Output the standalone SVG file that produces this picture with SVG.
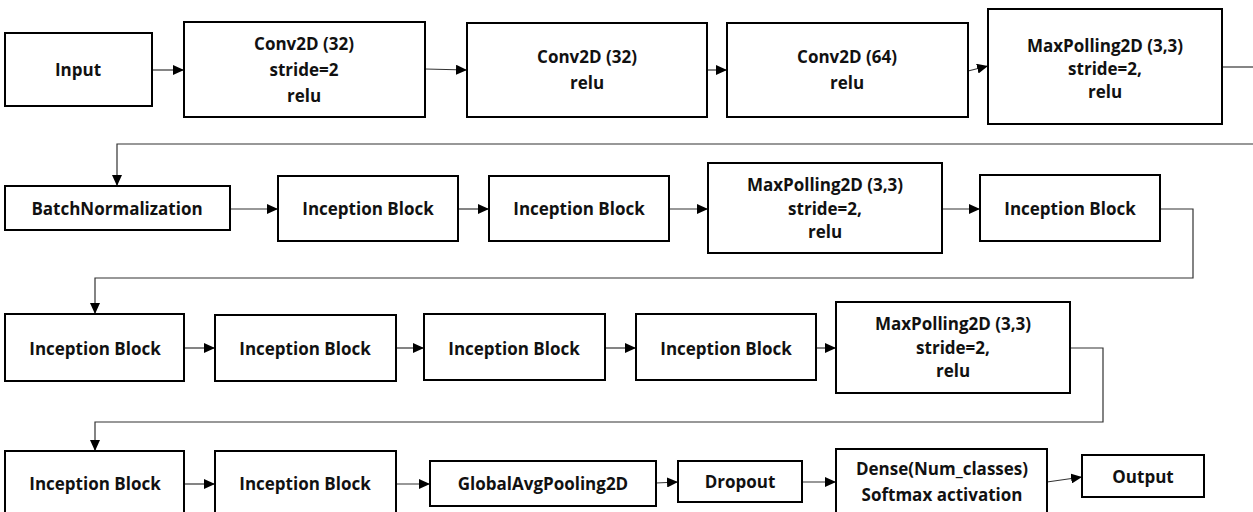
<svg xmlns="http://www.w3.org/2000/svg" width="1253" height="512" viewBox="0 0 1253 512">
<defs>
<style>
.box{fill:#fff;stroke:#000;stroke-width:2}
.t{font-family:"Open Sans","Liberation Sans",sans-serif;font-weight:bold;font-size:17px;fill:#111;text-anchor:middle}
.c{fill:none;stroke:#333;stroke-width:1.2}
</style>
<marker id="ah" markerUnits="userSpaceOnUse" markerWidth="12" markerHeight="10" refX="11" refY="5" orient="auto">
<path d="M0,0 L11,5 L0,10 z" fill="#000"/>
</marker>
</defs>
<rect width="1253" height="512" fill="#fff"/>
<g id="connectors">
<line class="c" x1="152" y1="70" x2="184" y2="70" marker-end="url(#ah)"/>
<line class="c" x1="425" y1="69" x2="467" y2="70" marker-end="url(#ah)"/>
<line class="c" x1="707" y1="70" x2="727" y2="70" marker-end="url(#ah)"/>
<line class="c" x1="968" y1="71" x2="988" y2="66" marker-end="url(#ah)"/>
<line class="c" x1="1222" y1="67" x2="1253" y2="67"/>
<polyline class="c" points="1253,144 117,144 117,186" marker-end="url(#ah)"/>
<line class="c" x1="230" y1="209" x2="278" y2="209" marker-end="url(#ah)"/>
<line class="c" x1="458" y1="209" x2="489" y2="209" marker-end="url(#ah)"/>
<line class="c" x1="669" y1="209" x2="708" y2="209" marker-end="url(#ah)"/>
<line class="c" x1="942" y1="209" x2="980" y2="209" marker-end="url(#ah)"/>
<polyline class="c" points="1160,209 1193,209 1193,278 95,278 95,314" marker-end="url(#ah)"/>
<line class="c" x1="184" y1="348" x2="215" y2="348" marker-end="url(#ah)"/>
<line class="c" x1="396" y1="348" x2="424" y2="348" marker-end="url(#ah)"/>
<line class="c" x1="605" y1="348" x2="636" y2="348" marker-end="url(#ah)"/>
<line class="c" x1="816" y1="348" x2="836" y2="348" marker-end="url(#ah)"/>
<polyline class="c" points="1070,348 1103,348 1103,422 95,422 95,451" marker-end="url(#ah)"/>
<line class="c" x1="184" y1="484" x2="215" y2="484" marker-end="url(#ah)"/>
<line class="c" x1="396" y1="484" x2="430" y2="484" marker-end="url(#ah)"/>
<line class="c" x1="656" y1="483" x2="678" y2="482" marker-end="url(#ah)"/>
<line class="c" x1="802" y1="482" x2="836" y2="482" marker-end="url(#ah)"/>
<line class="c" x1="1047" y1="482" x2="1082" y2="477" marker-end="url(#ah)"/>
</g>
<g id="input"><rect class="box" x="5" y="33" width="147" height="73"/><text class="t" x="78" y="76">Input</text></g>
<g id="conv1"><rect class="box" x="184" y="22" width="241" height="95"/><text class="t" x="304" y="50">Conv2D (32)</text><text class="t" x="304" y="76">stride=2</text><text class="t" x="304" y="102">relu</text></g>
<g id="conv2"><rect class="box" x="467" y="23" width="240" height="94"/><text class="t" x="587" y="63">Conv2D (32)</text><text class="t" x="587" y="89">relu</text></g>
<g id="conv3"><rect class="box" x="727" y="23" width="241" height="94"/><text class="t" x="847" y="63">Conv2D (64)</text><text class="t" x="847" y="89">relu</text></g>
<g id="maxpool1"><rect class="box" x="988" y="9" width="234" height="115"/><text class="t" x="1105" y="52">MaxPolling2D (3,3)</text><text class="t" x="1105" y="75">stride=2,</text><text class="t" x="1105" y="98">relu</text></g>
<g id="batchnorm"><rect class="box" x="5" y="186" width="225" height="44"/><text class="t" x="117" y="215">BatchNormalization</text></g>
<g id="inc1"><rect class="box" x="278" y="176" width="180" height="65"/><text class="t" x="368" y="215">Inception Block</text></g>
<g id="inc2"><rect class="box" x="489" y="176" width="180" height="65"/><text class="t" x="579" y="215">Inception Block</text></g>
<g id="maxpool2"><rect class="box" x="708" y="163" width="234" height="90"/><text class="t" x="825" y="191">MaxPolling2D (3,3)</text><text class="t" x="825" y="215">stride=2,</text><text class="t" x="825" y="238">relu</text></g>
<g id="inc3"><rect class="box" x="980" y="175" width="180" height="66"/><text class="t" x="1070" y="215">Inception Block</text></g>
<g id="inc4"><rect class="box" x="5" y="314" width="179" height="67"/><text class="t" x="95" y="355">Inception Block</text></g>
<g id="inc5"><rect class="box" x="215" y="315" width="181" height="66"/><text class="t" x="305" y="355">Inception Block</text></g>
<g id="inc6"><rect class="box" x="424" y="314" width="181" height="66"/><text class="t" x="514" y="355">Inception Block</text></g>
<g id="inc7"><rect class="box" x="636" y="314" width="180" height="66"/><text class="t" x="726" y="355">Inception Block</text></g>
<g id="maxpool3"><rect class="box" x="836" y="302" width="234" height="91"/><text class="t" x="953" y="330">MaxPolling2D (3,3)</text><text class="t" x="953" y="354">stride=2,</text><text class="t" x="953" y="377">relu</text></g>
<g id="inc8"><rect class="box" x="5" y="451" width="179" height="70"/><text class="t" x="95" y="490">Inception Block</text></g>
<g id="inc9"><rect class="box" x="215" y="451" width="181" height="70"/><text class="t" x="305" y="490">Inception Block</text></g>
<g id="gap"><rect class="box" x="430" y="461" width="226" height="45"/><text class="t" x="543" y="490">GlobalAvgPooling2D</text></g>
<g id="dropout"><rect class="box" x="678" y="461" width="124" height="41"/><text class="t" x="740" y="488">Dropout</text></g>
<g id="dense"><rect class="box" x="836" y="449" width="211" height="72"/><text class="t" x="942" y="475">Dense(Num_classes)</text><text class="t" x="942" y="501">Softmax activation</text></g>
<g id="output"><rect class="box" x="1082" y="455" width="122" height="42"/><text class="t" x="1143" y="483">Output</text></g>
</svg>
